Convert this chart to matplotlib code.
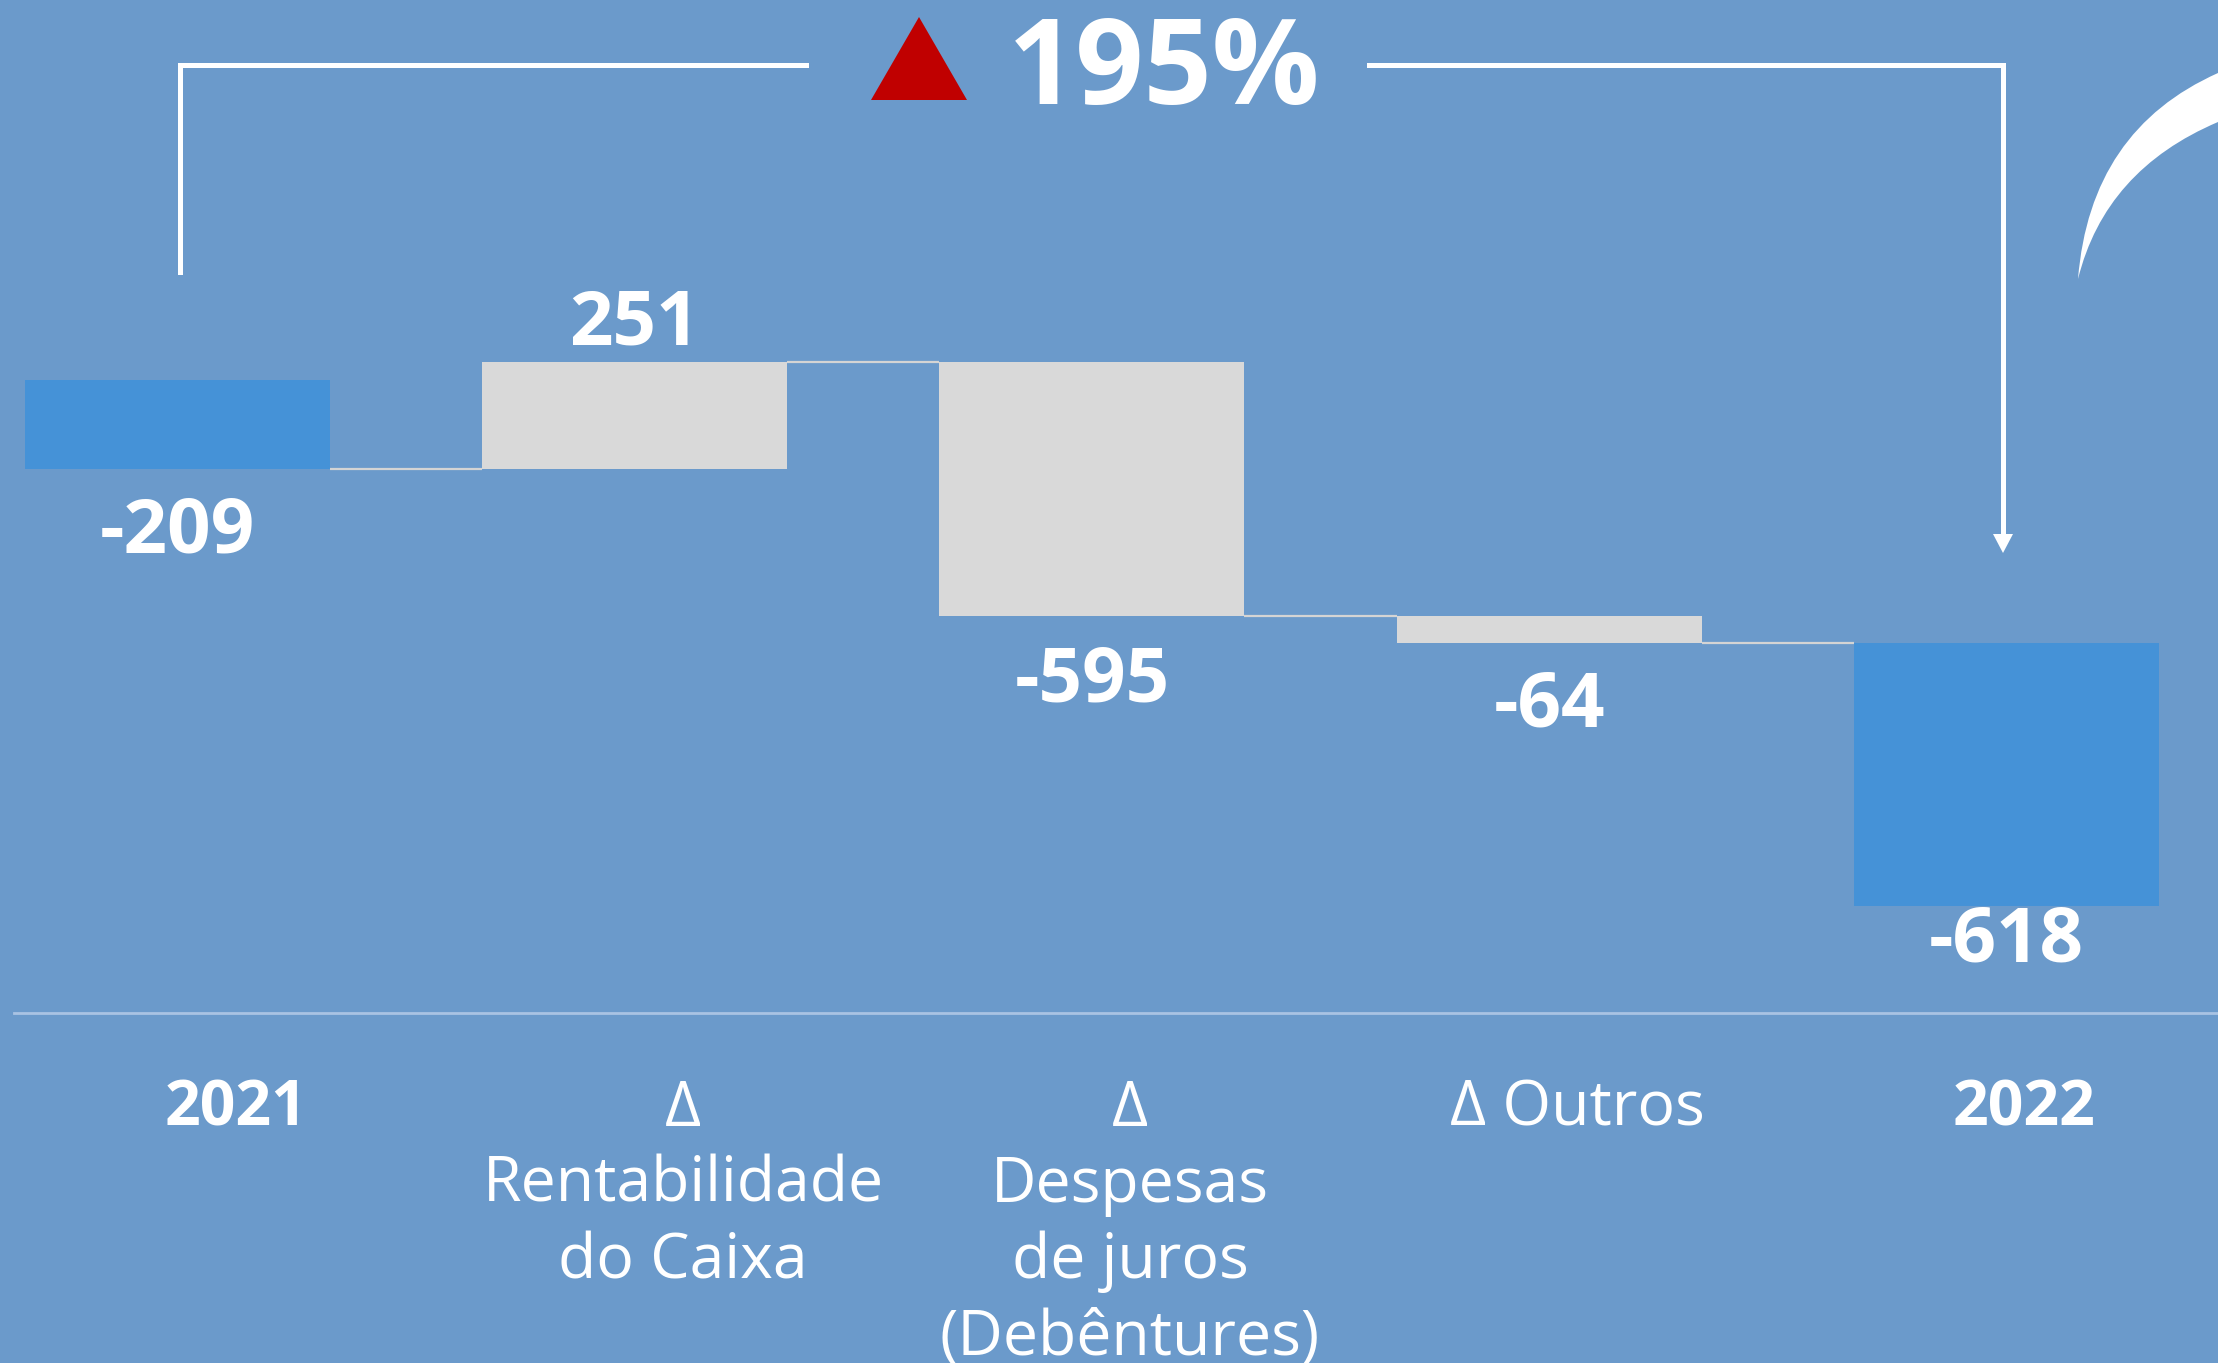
import matplotlib
matplotlib.use("Agg")
import matplotlib.pyplot as plt
from matplotlib.patches import Polygon, PathPatch
from matplotlib.path import Path

# ---------------- data ----------------
categories = ["2021", "Δ\nRentabilidade\ndo Caixa", "Δ\nDespesas\nde juros\n(Debêntures)", "Δ Outros", "2022"]
values = [-209, 251, -595, -64, -618]
kinds = ["total", "delta", "delta", "delta", "total"]
value_labels = ["-209", "251", "-595", "-64", "-618"]
change_label = "195%"

# ---------------- style ----------------
BG = "#6b9acb"
BLUE = "#4592d7"
GRAY = "#d9d9d9"
RED = "#c00000"
WHITE = "#ffffff"
FONT = ["Open Sans", "DejaVu Sans"]
label_offsets_px = [64, 37, 66, 64, 36]
bold_cats = [True, False, False, False, True]

W, H = 2218, 1363
fig = plt.figure(figsize=(W / 100, H / 100), dpi=100)
fig.patch.set_facecolor(BG)
ax = fig.add_axes([0, 0, 1, 1])
ax.set_facecolor(BG)
ax.axis("off")
ax.set_xlim(-0.388, 4.4625)
ax.set_ylim(-2307.5, 892)

def px(x, y):
    """figure pixel (from top-left) -> axes fraction"""
    return (x / W, 1 - y / H)

bar_w = 0.667
running = 0
bottoms, ends = [], []
for i, (v, k) in enumerate(zip(values, kinds)):
    if k == "total" and i == 0:
        b = 0
        running = v
    else:
        b = running
        running = running + v
    bottoms.append(b)
    ends.append(b + v)
    ax.bar(i, v, bottom=b, width=bar_w, color=BLUE if k == "total" else GRAY,
           edgecolor="none", zorder=2)

# connectors
for i in range(len(values) - 1):
    lvl = ends[i]
    ax.plot([i + bar_w / 2, i + 1 - bar_w / 2], [lvl, lvl], color="#d4d4d4",
            lw=1.6, zorder=1, solid_capstyle="butt")

# value labels
for i, (v, lab) in enumerate(zip(values, value_labels)):
    off = label_offsets_px[i] * 0.72
    ax.annotate(lab, (i, ends[i]), xytext=(0, -off if v < 0 else off),
                textcoords="offset points", ha="center", va="center",
                color=WHITE, fontsize=55, fontweight="bold", family=FONT, zorder=3)

# baseline
ax.plot([px(14, 0)[0], 1], [px(0, 1013)[1]] * 2, transform=ax.transAxes,
        color="#a9c3e3", lw=2, zorder=1)

# category labels
for i, (c, b) in enumerate(zip(categories, bold_cats)):
    xl = 0.128 + 0.9776 * i
    ax.text(xl, px(0, 1078)[1], c, transform=ax.get_xaxis_transform(),
            ha="center", va="top", color=WHITE, fontsize=45,
            fontweight="bold" if b else "normal", family=FONT, linespacing=1.29)

# bracket
lw = 3.6
ax.plot([px(180, 0)[0]] * 2 + [px(806, 0)[0]],
        [px(0, 272)[1], px(0, 65)[1], px(0, 65)[1]],
        transform=ax.transAxes, color=WHITE, lw=lw, solid_joinstyle="miter")
ax.plot([px(1369, 0)[0], px(2003, 0)[0], px(2003, 0)[0]],
        [px(0, 65)[1], px(0, 65)[1], px(0, 536)[1]],
        transform=ax.transAxes, color=WHITE, lw=lw, solid_joinstyle="miter")
ax.add_patch(Polygon([px(1993, 534), px(2013, 534), px(2003, 553)], closed=True,
                     transform=ax.transAxes, color=WHITE, lw=0))

# red triangle + change label
ax.add_patch(Polygon([px(871, 100), px(967, 100), px(919, 17)], closed=True,
                     transform=ax.transAxes, color=RED, lw=0))
ax.text(px(1164, 0)[0], px(0, 73)[1], change_label, transform=ax.transAxes,
        ha="center", va="center", color=WHITE, fontsize=86, fontweight="bold",
        family=FONT)

# decorative crescent at top right
verts = [px(2078, 279), px(2090, 130), px(2218, 73), px(2230, 73), px(2230, 122),
         px(2218, 122), px(2105, 170), px(2078, 279), px(2078, 279)]
codes = [Path.MOVETO, Path.CURVE3, Path.CURVE3, Path.LINETO, Path.LINETO,
         Path.LINETO, Path.CURVE3, Path.CURVE3, Path.CLOSEPOLY]
ax.add_patch(PathPatch(Path(verts, codes), transform=ax.transAxes,
                       facecolor=WHITE, edgecolor="none", clip_on=True))

fig.savefig("out.png", dpi=100, facecolor=BG)
